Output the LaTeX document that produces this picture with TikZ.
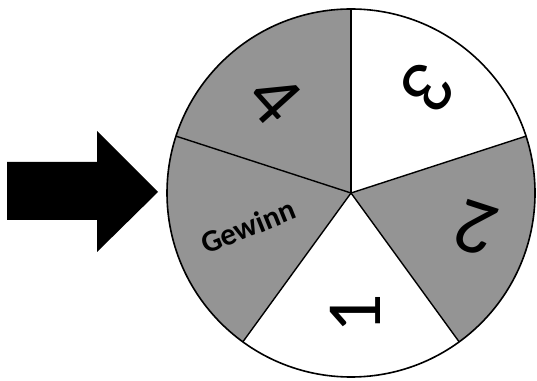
\documentclass[tikz,border=0pt]{standalone}
\usepackage{fontspec}
\usetikzlibrary{calc}
\newfontfamily\labfont{Carlito}
\begin{document}
\begin{tikzpicture}[x=1pt,y=1pt,
  digit/.style={font=\labfont\fontsize{78}{78}\selectfont,inner sep=0pt},
  winlabel/.style={font=\labfont\bfseries\fontsize{31}{31}\selectfont,inner sep=0pt},
  graysec/.style={fill=black!42},
  whitesec/.style={fill=white},
  divider/.style={draw=black,line width=1.4pt},
  bigarrow/.style={fill=black}]
\useasboundingbox (0,0) rectangle (537,380);
\coordinate (c) at (351,187);
\def\R{184}
% sectors
\fill[graysec] (c) -- ++(90:\R) arc[start angle=90,end angle=162,radius=\R] -- cycle;
\fill[whitesec] (c) -- ++(18:\R) arc[start angle=18,end angle=90,radius=\R] -- cycle;
\fill[graysec] (c) -- ++(-54:\R) arc[start angle=-54,end angle=18,radius=\R] -- cycle;
\fill[whitesec] (c) -- ++(-126:\R) arc[start angle=-126,end angle=-54,radius=\R] -- cycle;
\fill[graysec] (c) -- ++(162:\R) arc[start angle=162,end angle=234,radius=\R] -- cycle;
\foreach \a in {90,18,-54,-126,162}
  \draw[divider] (c) -- ++(\a:\R);
\draw[divider,line width=1.6pt] (c) circle[radius=\R];
% labels
\node[digit,rotate=-48] (l4) at ($(c)+(129:122)$) {4};
\node[digit,rotate=-126] (l3) at ($(c)+(54:131)$) {3};
\node[digit,rotate=162] (l2) at ($(c)+(-16:130)$) {2};
\node[digit,rotate=90] (l1) at ($(c)+(-88:121)$) {1};
\node[winlabel,rotate=22] (lw) at ($(c)+(198:108)$) {Gewinn};
% arrow
\fill[bigarrow] (7,218) -- (97,218) -- (97,249) -- (158,188) -- (97,128) -- (97,160) -- (7,160) -- cycle;
\end{tikzpicture}
\end{document}
